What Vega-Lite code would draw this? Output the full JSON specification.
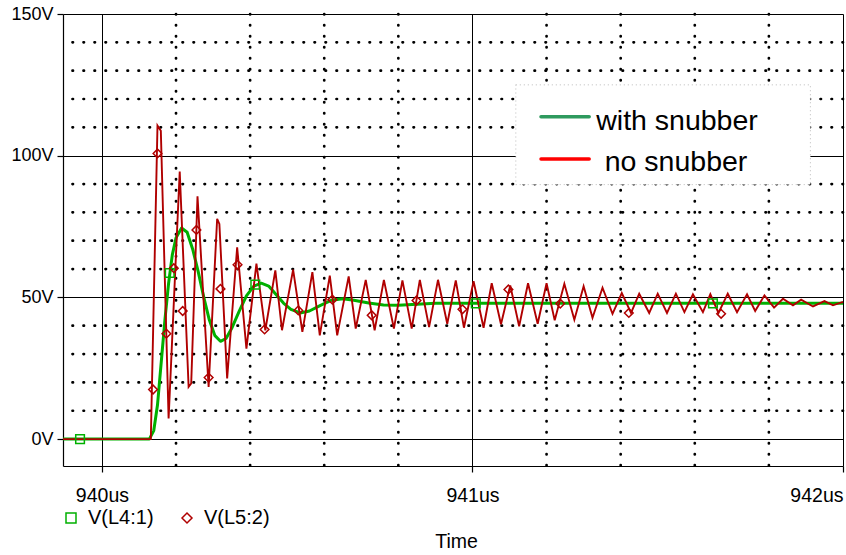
{
  "$schema": "https://vega.github.io/schema/vega-lite/v6.json",
  "width": 780,
  "height": 452,
  "autosize": {"type": "none"},
  "padding": {"left": 63, "top": 14, "right": 3, "bottom": 89},
  "background": "white",
  "config": {
    "view": {"stroke": null},
    "font": "Liberation Sans",
    "text": {"font": "Liberation Sans"}
  },
  "datasets": {
    "vgrid": [{"t": 940.2}, {"t": 940.4}, {"t": 940.6}, {"t": 940.8}, {"t": 941.2}, {"t": 941.4}, {"t": 941.6}, {"t": 941.8}],
    "hgrid": [{"v": 10}, {"v": 20}, {"v": 30}, {"v": 40}, {"v": 60}, {"v": 70}, {"v": 80}, {"v": 90}, {"v": 110}, {"v": 120}, {"v": 130}, {"v": 140}],
    "box": [{"t": 941.117, "t2": 941.912, "v": 89.8, "v2": 125}],
    "legGreen": [{"t": 941.185, "t2": 941.315, "v": 113.7}],
    "legRed": [{"t": 941.185, "t2": 941.315, "v": 98.8}],
    "legText": [{"t": 941.334, "v": 109.05, "label": "with snubber"}, {"t": 941.357, "v": 94.5, "label": "no snubber"}],
    "green": [
      {"t": 939.895, "v": 0}, {"t": 940.128, "v": 0}, {"t": 940.14, "v": 3}, {"t": 940.15, "v": 12},
      {"t": 940.16, "v": 27}, {"t": 940.17, "v": 42}, {"t": 940.18, "v": 55}, {"t": 940.19, "v": 65},
      {"t": 940.2, "v": 71}, {"t": 940.215, "v": 74.5}, {"t": 940.23, "v": 73}, {"t": 940.245, "v": 67},
      {"t": 940.26, "v": 59}, {"t": 940.275, "v": 50}, {"t": 940.29, "v": 42}, {"t": 940.305, "v": 36.5},
      {"t": 940.32, "v": 34.5}, {"t": 940.335, "v": 35.5}, {"t": 940.35, "v": 39}, {"t": 940.37, "v": 45},
      {"t": 940.39, "v": 50.5}, {"t": 940.41, "v": 54}, {"t": 940.43, "v": 55}, {"t": 940.45, "v": 54},
      {"t": 940.47, "v": 51}, {"t": 940.49, "v": 48}, {"t": 940.51, "v": 45.8}, {"t": 940.535, "v": 44.5},
      {"t": 940.56, "v": 45.2}, {"t": 940.59, "v": 47.2}, {"t": 940.62, "v": 49}, {"t": 940.65, "v": 49.5},
      {"t": 940.68, "v": 49}, {"t": 940.72, "v": 48}, {"t": 940.76, "v": 47.3}, {"t": 940.8, "v": 47.2},
      {"t": 940.85, "v": 47.6}, {"t": 940.9, "v": 47.9}, {"t": 941.0, "v": 47.9}, {"t": 942.0, "v": 47.9}
    ],
    "red": [
      {"t": 939.895, "v": 0}, {"t": 940.132, "v": 0}, {"t": 940.15, "v": 110.6}, {"t": 940.159, "v": 108.8},
      {"t": 940.18, "v": 7.3}, {"t": 940.21, "v": 94.4}, {"t": 940.234, "v": 18.4}, {"t": 940.241, "v": 19.6},
      {"t": 940.258, "v": 85.7}, {"t": 940.288, "v": 18.4}, {"t": 940.311, "v": 77.7}, {"t": 940.317, "v": 75.9},
      {"t": 940.338, "v": 21.4}, {"t": 940.365, "v": 67.7}, {"t": 940.39, "v": 31.9}, {"t": 940.417, "v": 61.9},
      {"t": 940.441, "v": 38.4}, {"t": 940.468, "v": 59.5}, {"t": 940.486, "v": 38.4}, {"t": 940.516, "v": 59.8},
      {"t": 940.541, "v": 37.8}, {"t": 940.568, "v": 58.9}, {"t": 940.588, "v": 36.6}, {"t": 940.615, "v": 57.7},
      {"t": 940.635, "v": 36.6}, {"t": 940.666, "v": 57.4}, {"t": 940.685, "v": 39.0}, {"t": 940.712, "v": 56.2},
      {"t": 940.736, "v": 38.4}, {"t": 940.761, "v": 56.2}, {"t": 940.788, "v": 39.0}, {"t": 940.811, "v": 56.0},
      {"t": 940.836, "v": 39.0}, {"t": 940.858, "v": 56.2}, {"t": 940.883, "v": 39.5}, {"t": 940.907, "v": 56.2},
      {"t": 940.932, "v": 40.7}, {"t": 940.955, "v": 56.0}, {"t": 940.977, "v": 39.3}, {"t": 941.003, "v": 55.7},
      {"t": 941.03, "v": 39.3}, {"t": 941.052, "v": 55.0}, {"t": 941.077, "v": 40.5}, {"t": 941.102, "v": 54.2},
      {"t": 941.126, "v": 39.8}, {"t": 941.15, "v": 55.0}, {"t": 941.176, "v": 40.7}, {"t": 941.2, "v": 55.0},
      {"t": 941.222, "v": 41.9}, {"t": 941.248, "v": 54.8}, {"t": 941.275, "v": 42.1}, {"t": 941.3, "v": 53.9},
      {"t": 941.324, "v": 42.8}, {"t": 941.351, "v": 53.4}, {"t": 941.378, "v": 44.2}, {"t": 941.403, "v": 51.5},
      {"t": 941.428, "v": 44.5}, {"t": 941.45, "v": 51.3}, {"t": 941.477, "v": 44.5}, {"t": 941.5, "v": 51.3},
      {"t": 941.525, "v": 44.5}, {"t": 941.549, "v": 51.3}, {"t": 941.572, "v": 44.8}, {"t": 941.595, "v": 51.1},
      {"t": 941.622, "v": 44.8}, {"t": 941.642, "v": 51.1}, {"t": 941.664, "v": 44.5}, {"t": 941.689, "v": 51.3},
      {"t": 941.714, "v": 44.8}, {"t": 941.741, "v": 51.1}, {"t": 941.763, "v": 45.2}, {"t": 941.788, "v": 50.7},
      {"t": 941.814, "v": 46.4}, {"t": 941.838, "v": 49.5}, {"t": 941.865, "v": 47.2}, {"t": 941.887, "v": 49.2},
      {"t": 941.919, "v": 46.8}, {"t": 941.95, "v": 48.7}, {"t": 941.973, "v": 47.2}, {"t": 942.0, "v": 48.4}
    ],
    "markers": [
      {"t": 939.941, "v": 0, "series": "V(L4:1)"},
      {"t": 940.183, "v": 58.6, "series": "V(L4:1)"},
      {"t": 940.414, "v": 54.5, "series": "V(L4:1)"},
      {"t": 941.009, "v": 47.9, "series": "V(L4:1)"},
      {"t": 941.649, "v": 47.9, "series": "V(L4:1)"},
      {"t": 940.138, "v": 17.5, "series": "V(L5:2)"},
      {"t": 940.15, "v": 100.8, "series": "V(L5:2)"},
      {"t": 940.174, "v": 37.2, "series": "V(L5:2)"},
      {"t": 940.194, "v": 60.3, "series": "V(L5:2)"},
      {"t": 940.218, "v": 45.2, "series": "V(L5:2)"},
      {"t": 940.255, "v": 73.8, "series": "V(L5:2)"},
      {"t": 940.288, "v": 21.7, "series": "V(L5:2)"},
      {"t": 940.32, "v": 53, "series": "V(L5:2)"},
      {"t": 940.366, "v": 61.5, "series": "V(L5:2)"},
      {"t": 940.439, "v": 38.7, "series": "V(L5:2)"},
      {"t": 940.53, "v": 45.4, "series": "V(L5:2)"},
      {"t": 940.622, "v": 49.2, "series": "V(L5:2)"},
      {"t": 940.728, "v": 43.7, "series": "V(L5:2)"},
      {"t": 940.849, "v": 48.9, "series": "V(L5:2)"},
      {"t": 940.973, "v": 45.8, "series": "V(L5:2)"},
      {"t": 941.097, "v": 52.8, "series": "V(L5:2)"},
      {"t": 941.237, "v": 47.8, "series": "V(L5:2)"},
      {"t": 941.422, "v": 44.5, "series": "V(L5:2)"},
      {"t": 941.671, "v": 44.2, "series": "V(L5:2)"}
    ]
  },
  "layer": [
    {
      "data": {"name": "vgrid"},
      "mark": {"type": "rule", "color": "black", "strokeWidth": 2.7, "strokeDash": [0.5, 10.5], "strokeCap": "round"},
      "encoding": {
        "x": {
          "field": "t", "type": "quantitative",
          "scale": {"domain": [939.895, 942], "nice": false, "zero": false},
          "axis": {
            "values": [940, 941, 942],
            "labelExpr": "datum.value + 'us'",
            "title": "Time",
            "grid": true, "gridColor": "black", "gridOpacity": 1, "gridWidth": 1,
            "domainColor": "black", "domainWidth": 1.2,
            "tickColor": "black", "tickSize": 6, "tickWidth": 1.2,
            "labelFontSize": 19.5, "labelColor": "black", "labelFont": "Liberation Sans",
            "labelBaseline": "alphabetic", "labelPadding": 29.5, "labelFlush": 5,
            "titleFontSize": 19.5, "titleFontWeight": "normal", "titleColor": "black", "titleFont": "Liberation Sans",
            "titleX": 393, "titleY": 81, "titleBaseline": "alphabetic", "titleAlign": "center"
          }
        }
      }
    },
    {
      "data": {"name": "hgrid"},
      "mark": {"type": "rule", "color": "black", "strokeWidth": 2.7, "strokeDash": [0.5, 10.5], "strokeCap": "round"},
      "encoding": {
        "y": {
          "field": "v", "type": "quantitative",
          "scale": {"domain": [-9.5, 150], "nice": false, "zero": false},
          "axis": {
            "values": [0, 50, 100, 150],
            "labelExpr": "datum.value + 'V'",
            "title": null,
            "grid": true, "gridColor": "black", "gridOpacity": 1, "gridWidth": 1,
            "domainColor": "black", "domainWidth": 1.2,
            "tickColor": "black", "tickSize": 6, "tickWidth": 1.2,
            "labelFontSize": 18, "labelColor": "black", "labelFont": "Liberation Sans",
            "labelPadding": 4, "labelBaseline": "middle"
          }
        }
      }
    },
    {
      "data": {"name": "box"},
      "mark": {"type": "rect", "fill": "white", "stroke": "#aaaaaa", "strokeWidth": 0.8, "strokeDash": [1, 3]},
      "encoding": {
        "x": {"field": "t", "type": "quantitative"},
        "x2": {"field": "t2"},
        "y": {"field": "v", "type": "quantitative"},
        "y2": {"field": "v2"}
      }
    },
    {
      "data": {"name": "legGreen"},
      "mark": {"type": "rule", "color": "#2e9a5e", "strokeWidth": 3.5, "strokeCap": "round"},
      "encoding": {
        "x": {"field": "t", "type": "quantitative"},
        "x2": {"field": "t2"},
        "y": {"field": "v", "type": "quantitative"}
      }
    },
    {
      "data": {"name": "legRed"},
      "mark": {"type": "rule", "color": "#ff0000", "strokeWidth": 3.5, "strokeCap": "round"},
      "encoding": {
        "x": {"field": "t", "type": "quantitative"},
        "x2": {"field": "t2"},
        "y": {"field": "v", "type": "quantitative"}
      }
    },
    {
      "data": {"name": "legText"},
      "mark": {"type": "text", "align": "left", "baseline": "alphabetic", "fontSize": 28.5, "color": "black", "font": "Liberation Sans"},
      "encoding": {
        "x": {"field": "t", "type": "quantitative"},
        "y": {"field": "v", "type": "quantitative"},
        "text": {"field": "label"}
      }
    },
    {
      "data": {"name": "green"},
      "mark": {"type": "line", "color": "#00b000", "strokeWidth": 3, "strokeJoin": "round"},
      "encoding": {
        "x": {"field": "t", "type": "quantitative"},
        "y": {"field": "v", "type": "quantitative"}
      }
    },
    {
      "data": {"name": "red"},
      "mark": {"type": "line", "color": "#b00000", "strokeWidth": 1.9},
      "encoding": {
        "x": {"field": "t", "type": "quantitative"},
        "y": {"field": "v", "type": "quantitative"}
      }
    },
    {
      "data": {"name": "markers"},
      "mark": {"type": "point", "filled": false, "strokeWidth": 1.5, "size": 75, "opacity": 1},
      "encoding": {
        "x": {"field": "t", "type": "quantitative"},
        "y": {"field": "v", "type": "quantitative"},
        "color": {
          "field": "series", "type": "nominal",
          "scale": {"domain": ["V(L4:1)", "V(L5:2)"], "range": ["#00b000", "#b00000"]},
          "legend": {
            "title": null, "orient": "none", "legendX": -2, "legendY": 494,
            "direction": "horizontal", "labelFontSize": 20, "labelColor": "black", "labelFont": "Liberation Sans",
            "symbolSize": 100, "symbolStrokeWidth": 1.5, "labelOffset": 7, "columnPadding": 23, "padding": 0
          }
        },
        "shape": {
          "field": "series", "type": "nominal",
          "scale": {"domain": ["V(L4:1)", "V(L5:2)"], "range": ["square", "diamond"]}
        }
      }
    }
  ]
}
